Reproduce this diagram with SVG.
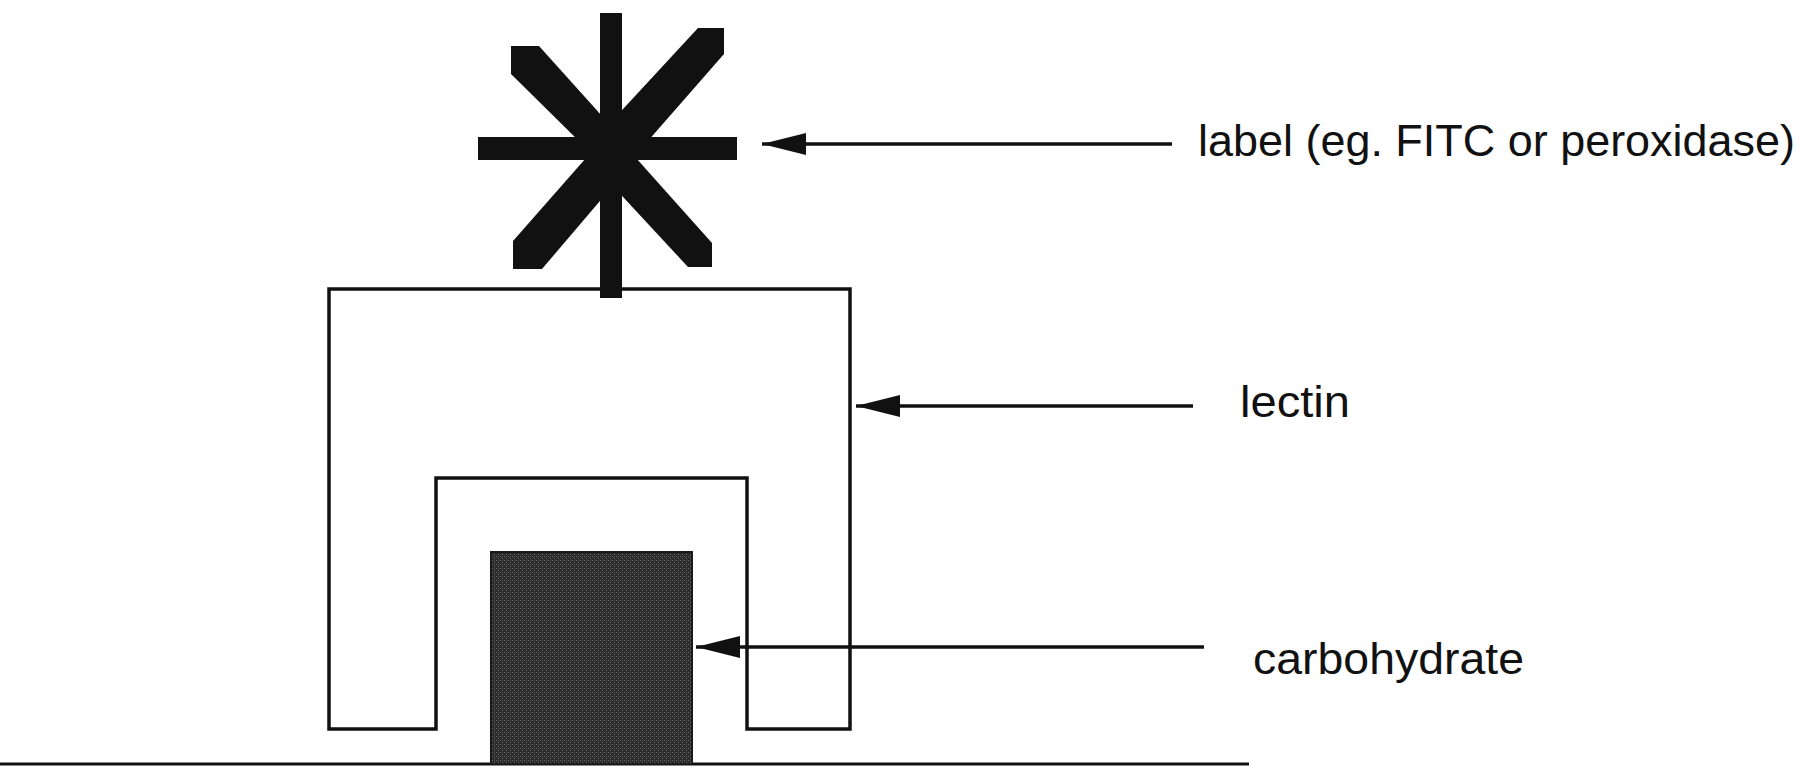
<svg xmlns="http://www.w3.org/2000/svg" width="1808" height="775" viewBox="0 0 1808 775">
  <style>
    .ink { fill: #111; stroke: none; }
    .outline { fill: #fff; stroke: #111; stroke-width: 3.5; stroke-linejoin: miter; }
    .conn { stroke: #111; stroke-width: 3.5; fill: none; }
    .lbl { font-family: "Liberation Sans", Arial, sans-serif; font-size: 45px; fill: #111; }
  </style>
  <defs>
    <marker id="head" markerUnits="userSpaceOnUse" markerWidth="46" markerHeight="24" refX="44" refY="11" orient="auto">
      <path d="M0,0 L44,11 L0,22 Z" fill="#111"/>
    </marker>
    <pattern id="stipple" width="4" height="4" patternUnits="userSpaceOnUse">
      <rect width="4" height="4" fill="#2b2b2b"/>
      <rect x="0" y="0" width="1" height="1" fill="#6a6a6a"/>
      <rect x="2" y="2" width="1" height="1" fill="#6a6a6a"/>
      <rect x="2" y="0" width="1" height="1" fill="#4a4a4a"/>
    </pattern>
  </defs>
  <rect width="1808" height="775" fill="#fff"/>

  <g id="surface">
    <line x1="0" y1="764" x2="1249" y2="764" stroke="#111" stroke-width="3"/>
  </g>

  <g id="carbohydrate">
    <rect x="491" y="552" width="201" height="212" fill="url(#stipple)" stroke="#1a1a1a" stroke-width="2"/>
  </g>

  <g id="lectin">
    <path class="outline" d="M329,729 V289 H850 V729 H747 V478 H436 V729 Z"/>
  </g>

  <g id="label-marker" class="ink">
    <rect x="600" y="13" width="22" height="285"/>
    <rect x="478" y="137" width="259" height="23"/>
    <polygon points="511,46 539,46 611,126 611,150 588,150 511,74"/>
    <polygon points="698,28 724,28 724,54 640,150 611,150 611,122"/>
    <polygon points="513,241 513,269 542,269 611,188 611,158 586,158"/>
    <polygon points="712,243 712,267 688,267 611,184 611,158 636,158"/>
  </g>

  <g id="connectors" class="conn">
    <line x1="1172" y1="144" x2="762" y2="144" marker-end="url(#head)"/>
    <line x1="1193" y1="406" x2="856" y2="406" marker-end="url(#head)"/>
    <line x1="1204" y1="647" x2="696" y2="647" marker-end="url(#head)"/>
  </g>

  <g id="texts">
    <text class="lbl" x="1198" y="156" textLength="597" lengthAdjust="spacingAndGlyphs">label (eg. FITC or peroxidase)</text>
    <text class="lbl" x="1240" y="417" textLength="110" lengthAdjust="spacingAndGlyphs">lectin</text>
    <text class="lbl" x="1253" y="674" textLength="271" lengthAdjust="spacingAndGlyphs">carbohydrate</text>
  </g>
</svg>
